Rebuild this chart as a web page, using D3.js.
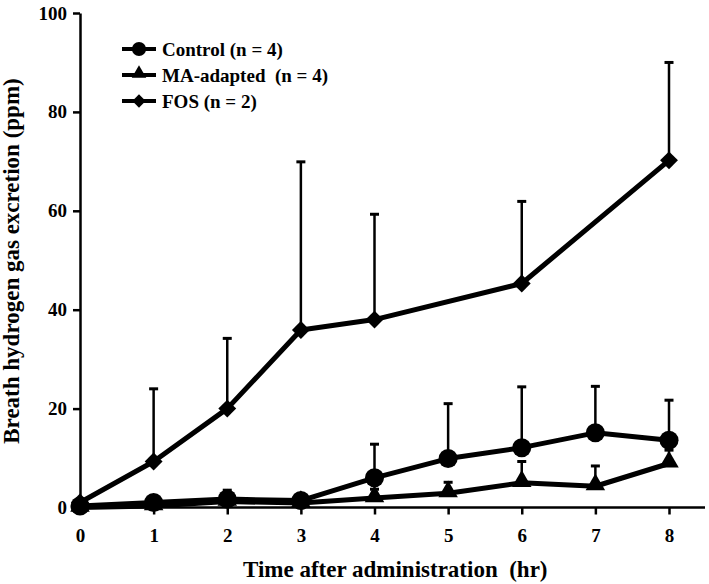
<!DOCTYPE html>
<html><head><meta charset="utf-8">
<script src="https://cdn.jsdelivr.net/npm/d3@7"></script>
<style>body{margin:0;background:#fff}svg{display:block}</style>
</head><body>
<svg id="c" width="709" height="584"></svg>
<script>
const hours = [0,1,2,3,4,5,6,7,8];
const controlMean = [0.3,1.0,1.7,1.4,6.0,9.9,12.1,15.1,13.6];
const controlErr  = [null,null,3.5,null,12.8,21.0,24.4,24.5,21.7];
const maMean = [0.0,0.3,1.2,0.9,1.9,2.9,5.0,4.3,8.9];
const maErr  = [null,null,null,null,3.7,5.1,9.3,8.4,11.6];
const fosHours = [0,1,2,3,4,6,8];
const fosMean = [1.0,9.3,20.0,35.9,38.0,45.3,70.2];
const fosErr  = [null,24.0,34.2,69.9,59.3,61.9,90.0];
const yTicks = [0,20,40,60,80,100];
const seriesNames = ["Control (n = 4)","MA-adapted  (n = 4)","FOS (n = 2)"];

const svg = d3.select("#c");
const font = "'Liberation Serif','Times New Roman',serif";
const x = d3.scaleLinear().domain([0,8]).range([80,669]);
const y = d3.scaleLinear().domain([0,100]).range([507.5,13]);

// axes
const xAxis = svg.append("g").attr("transform","translate(0,507.5)")
  .call(d3.axisBottom(x).tickValues(hours).tickSize(7).tickSizeOuter(0).tickPadding(14));
xAxis.select(".domain").attr("d","M80,0H705");
const yAxis = svg.append("g").attr("transform","translate(80,0)")
  .call(d3.axisLeft(y).tickValues(yTicks).tickSize(7).tickSizeOuter(0).tickPadding(6));
[xAxis,yAxis].forEach(g=>{
  g.selectAll("path,line").attr("stroke","#000").attr("stroke-width",2.5);
  g.selectAll("text").attr("font-family",font).attr("font-weight","bold")
   .attr("font-size",19).attr("fill","#000");
});

svg.append("text").attr("x",243).attr("y",577).attr("text-anchor","start")
  .attr("font-family",font).attr("font-weight","bold").attr("font-size",23)
  .attr("xml:space","preserve").style("white-space","pre")
  .text("Time after administration  (hr)");
svg.append("text").attr("transform","translate(19,261) rotate(-90)").attr("text-anchor","middle")
  .attr("font-family",font).attr("font-weight","bold").attr("font-size",23)
  .text("Breath hydrogen gas excretion (ppm)");

const series = [
  {name:seriesNames[2], xs:fosHours, m:fosMean, e:fosErr, shape:"diamond"},
  {name:seriesNames[1], xs:hours, m:maMean, e:maErr, shape:"triangle"},
  {name:seriesNames[0], xs:hours, m:controlMean, e:controlErr, shape:"circle"}
];
const symType = {circle:d3.symbolCircle, triangle:d3.symbolTriangle, diamond:d3.symbolSquare};
const symSize = {circle:285, triangle:165, diamond:160};
function marker(g, shape, cx, cy, scale){
  const p = g.append("path").attr("d", d3.symbol(symType[shape], symSize[shape]*scale)())
    .attr("fill","#000");
  let t = `translate(${cx},${cy})`;
  if(shape==="diamond") t += " rotate(45)";
  if(shape==="triangle") t = `translate(${cx},${cy-1.5})`;
  p.attr("transform", t);
}

series.forEach(s=>{
  const g = svg.append("g");
  s.xs.forEach((h,i)=>{
    if(s.e[i]==null) return;
    g.append("line").attr("x1",x(h)).attr("x2",x(h)).attr("y1",y(s.m[i])).attr("y2",y(s.e[i]))
      .attr("stroke","#000").attr("stroke-width",2.5);
    g.append("line").attr("x1",x(h)-4.5).attr("x2",x(h)+4.5).attr("y1",y(s.e[i])).attr("y2",y(s.e[i]))
      .attr("stroke","#000").attr("stroke-width",3);
  });
  const line = d3.line().x((d,i)=>x(s.xs[i])).y(d=>y(d));
  g.append("path").attr("d",line(s.m)).attr("fill","none").attr("stroke","#000")
    .attr("stroke-width",5).attr("stroke-linejoin","round");
  s.xs.forEach((h,i)=>marker(g,s.shape,x(h),y(s.m[i]),1));
});

// legend
const leg = [
  {name:seriesNames[0], shape:"circle", y:49},
  {name:seriesNames[1], shape:"triangle", y:75},
  {name:seriesNames[2], shape:"diamond", y:101}
];
leg.forEach(l=>{
  const g = svg.append("g");
  g.append("line").attr("x1",122).attr("x2",156).attr("y1",l.y).attr("y2",l.y)
    .attr("stroke","#000").attr("stroke-width",4);
  marker(g,l.shape,139,l.y,0.55);
  g.append("text").attr("x",162).attr("y",l.y+6.5).attr("font-family",font)
    .attr("font-weight","bold").attr("font-size",19)
    .style("white-space","pre").text(l.name);
});
</script>
</body></html>
